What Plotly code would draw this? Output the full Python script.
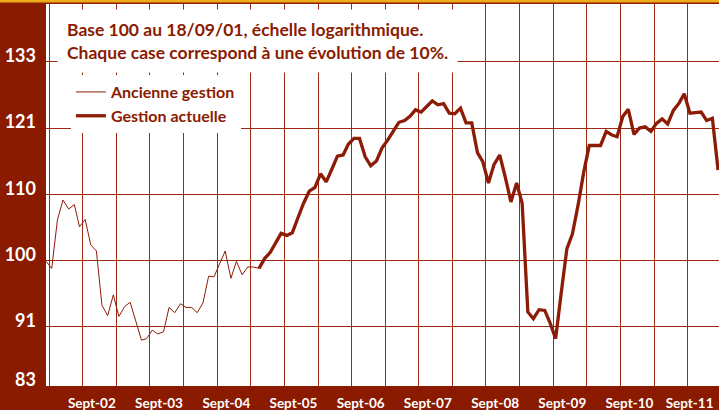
import math
import pandas as pd
import plotly.graph_objects as go

# ---- data (base 100 au 18/09/01, monthly) ----
start_month = "2001-09-01"
n_months = 121
ancienne = [99.9, 98.9, 106.0, 109.1, 107.7, 108.4, 105.0, 106.1, 102.3, 101.4,
            93.8, 92.4, 95.2, 92.3, 93.6, 94.2, 91.7, 89.2, 89.4, 90.5,
            90.0, 90.3, 93.5, 92.8, 94.0, 93.5, 93.5, 92.8, 94.1, 97.8,
            97.7, 99.6, 101.4, 97.5, 99.9, 98.0, 99.1, 99.1, 98.9]
actuelle = [98.9, 100.3, 101.2, 102.6, 104.0, 103.7, 104.1, 106.4, 108.6, 110.5,
            111.1, 113.3, 112.0, 114.0, 116.2, 116.4, 118.2, 119.2, 119.2, 116.1,
            114.6, 115.4, 117.6, 118.9, 120.4, 122.0, 122.3, 123.1, 124.2, 123.8,
            124.8, 125.8, 125.1, 125.3, 123.6, 123.5, 124.5, 121.9, 121.9, 116.8,
            115.3, 111.8, 114.8, 116.4, 112.8, 108.8, 111.8, 108.6, 92.9, 92.0,
            93.2, 93.1, 91.5, 89.4, 95.4, 101.7, 103.9, 108.3, 113.6, 118.0,
            118.0, 118.0, 120.4, 119.8, 119.5, 123.0, 124.3, 119.9, 121.0, 121.2,
            120.4, 121.8, 122.6, 121.7, 124.1, 125.4, 127.1, 123.6, 123.7, 123.8,
            122.3, 122.7, 113.9]

x_tick_dates = ["2002-09-17", "2003-09-17", "2004-09-17", "2005-09-17", "2006-09-17",
                "2007-09-17", "2008-09-17", "2009-09-17", "2010-09-17", "2011-08-10"]
x_tick_text = ["Sept-02", "Sept-03", "Sept-04", "Sept-05", "Sept-06",
               "Sept-07", "Sept-08", "Sept-09", "Sept-10", "Sept-11"]
y_tick_vals = [83.55, 90.91, 100, 110, 121, 133.1]
y_tick_text = ["83", "91", "100", "110", "121", "133"]
y_range = [83.52, 144.6]
x_range = ["2001-08-31", "2011-09-06"]

months = pd.date_range(start_month, periods=n_months, freq="MS")
x_anc = months[:len(ancienne)]
x_act = months[len(ancienne) - 1:]

DARK = "rgb(138,27,0)"
LINE = "rgb(140,28,6)"
GRID = "rgb(155,40,18)"
FONT = "Lato"

fig = go.Figure()
fig.add_trace(go.Scatter(x=x_anc, y=ancienne, mode="lines", name="Ancienne gestion",
                         line=dict(color=LINE, width=1)))
fig.add_trace(go.Scatter(x=x_act, y=actuelle, mode="lines", name="Gestion actuelle",
                         line=dict(color=LINE, width=3.3)))

fig.update_layout(
    width=719, height=410,
    margin=dict(l=46, r=0, t=4, b=24, autoexpand=False),
    paper_bgcolor=DARK, plot_bgcolor="white",
    font=dict(family=FONT, color=DARK),
    showlegend=True,
    legend=dict(x=0.037, y=0.814, xanchor="left", yanchor="top",
                bgcolor="white", font=dict(family=FONT, size=16, color=DARK, weight=700),
                tracegroupgap=0, itemwidth=30),
    xaxis=dict(type="date", range=x_range, showgrid=False, zeroline=False, showline=False,
               automargin=False,
               tickvals=x_tick_dates, ticktext=x_tick_text,
               ticklabelposition="outside left", ticklabelstandoff=5,
               ticks="outside", ticklen=2, tickcolor=DARK,
               tickfont=dict(family=FONT, size=13.5, color="white", weight=700),
               minor=dict(tick0="2001-09-18", dtick="M6", showgrid=True,
                          gridcolor=GRID, gridwidth=1, ticks="")),
    yaxis=dict(type="log", range=[math.log10(y_range[0]), math.log10(y_range[1])],
               automargin=False,
               tickvals=y_tick_vals, ticktext=y_tick_text,
               ticklabelposition="outside", ticklabelshift=-6,
               showgrid=True, gridcolor=GRID, gridwidth=1, zeroline=False, showline=False,
               ticks="", ticklabelstandoff=9,
               tickfont=dict(family=FONT, size=18, color="white", weight=700)),
    annotations=[dict(
        text="Base 100 au 18/09/01, échelle logarithmique.<br>Chaque case correspond à une évolution de 10%.",
        xref="paper", yref="paper", x=0.0165, y=0.988, xanchor="left", yanchor="top",
        align="left", showarrow=False, bgcolor="white", borderpad=9,
        font=dict(family=FONT, size=17.5, color=DARK, weight=700))],
    shapes=[dict(type="rect", xref="paper", yref="paper", x0=-0.1, x1=1.1,
                 y0=1 + 1.5 / 382, y1=1 + 4 / 382, fillcolor="rgb(240,170,30)",
                 line=dict(width=0), layer="above")],
)

fig.write_html("out.html", config={"displayModeBar": False},
               post_script="document.body.style.margin='0';document.body.style.overflow='hidden';")
